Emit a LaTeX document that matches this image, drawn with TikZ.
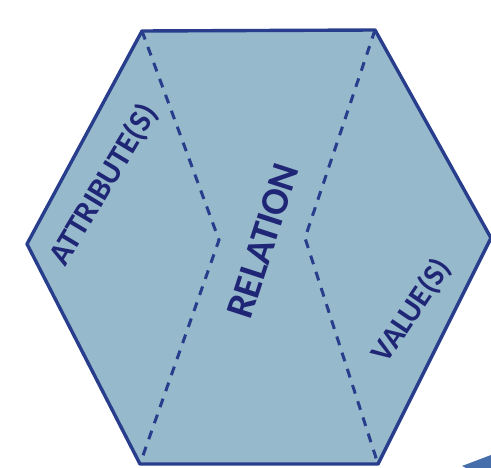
\documentclass[tikz,border=0pt]{standalone}
\usepackage{fontspec}
\setmainfont{Carlito}
\definecolor{hexfill}{RGB}{150,185,204}
\definecolor{hexline}{RGB}{40,62,140}
\definecolor{labelcol}{RGB}{32,38,118}
\definecolor{arrowcol}{RGB}{70,110,170}
\begin{document}
\begin{tikzpicture}[x=1pt,y=-1pt,
  edge/.style={draw=hexline,line width=3.4pt,line join=round},
  divider/.style={draw=hexline,line width=3pt,dash pattern=on 9pt off 8pt},
  lab/.style={text=labelcol,inner sep=0pt}]
\useasboundingbox (0,0) rectangle (491,468);
\coordinate (tl) at (142,31);
\coordinate (tr) at (375,30);
\coordinate (r) at (491,238);
\coordinate (br) at (378,464);
\coordinate (bl) at (140,464);
\coordinate (l) at (27,244);
\coordinate (kl) at (219,240);
\coordinate (kr) at (305,238);
\fill[arrowcol] (462,466) -- (491,455) -- (491,468) -- (466,468) -- cycle;
\path[edge,fill=hexfill] (tl) -- (tr) -- (r) -- (br) -- (bl) -- (l) -- cycle;
\draw[divider] (tl) -- (kl) -- (bl);
\draw[divider] (tr) -- (kr) -- (br);
\node[lab,rotate=59,font=\bfseries\fontsize{32}{32}\selectfont] (attr) at (104,185) {ATTRIBUTE(S)};
\node[lab,rotate=72,font=\bfseries\fontsize{39}{39}\selectfont] (rel) at (263,241) {RELATION};
\node[lab,rotate=56,font=\bfseries\fontsize{31}{31}\selectfont] (val) at (412,311) {VALUE(S)};
\end{tikzpicture}
\end{document}
